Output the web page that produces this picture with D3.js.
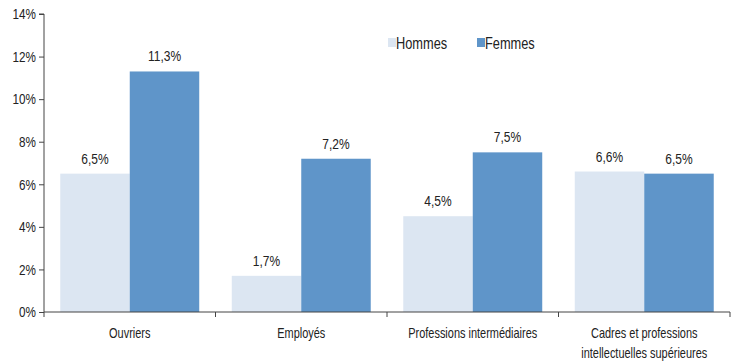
<!DOCTYPE html>
<html>
<head>
<meta charset="utf-8">
<script src="https://cdn.jsdelivr.net/npm/d3@7"></script>
<style>
  body { margin: 0; background: #fff; }
  svg text { font-family: "Liberation Sans Narrow", "Arial Narrow", "Liberation Sans", Arial, sans-serif; fill: #222; }
</style>
</head>
<body>
<svg id="chart" width="733" height="362"></svg>
<script>
// Categories (multi-line labels split on "\n")
const categories = ["Ouvriers", "Employés", "Professions intermédiaires", "Cadres et professions\nintellectuelles supérieures"];
const seriesNames = ["Hommes", "Femmes"];
const hommes = [6.5, 1.7, 4.5, 6.6];
const femmes = [11.3, 7.2, 7.5, 6.5];
const yTicks = [0, 2, 4, 6, 8, 10, 12, 14];
const colors = ["#dce6f2", "#5f95c9"];

// Horizontal squeeze to get a condensed look from a regular sans font
const SQ = 0.78;

const svg = d3.select("#chart");
const margin = { left: 44, right: 3, top: 14 };
const W = 733;
const plotBottom = 312;

const x = d3.scaleBand().domain(categories).range([margin.left, W - margin.right]).padding(0);
const inner = d3.scaleBand().domain(seriesNames).range([0, x.bandwidth()]).paddingOuter(0.234).paddingInner(0);
const y = d3.scaleLinear().domain([0, 14]).range([plotBottom, margin.top]);

const fmt = v => v.toFixed(1).replace(".", ",") + "%";

function squeezedText(parent, tx, ty, str, size, anchor, sq) {
  return parent.append("text")
    .attr("transform", `translate(${tx},${ty}) scale(${sq || SQ},1)`)
    .attr("text-anchor", anchor || "middle")
    .attr("font-size", size)
    .text(str);
}

// Bars
const data = categories.map((c, i) => ({ cat: c, values: [hommes[i], femmes[i]] }));
const groups = svg.append("g").selectAll("g").data(data).join("g")
  .attr("transform", d => `translate(${x(d.cat)},0)`);

groups.selectAll("rect").data(d => d.values.map((v, j) => ({ key: seriesNames[j], v, j })))
  .join("rect")
  .attr("x", d => inner(d.key))
  .attr("width", inner.bandwidth())
  .attr("y", d => y(d.v))
  .attr("height", d => y(0) - y(d.v))
  .attr("fill", d => colors[d.j]);

groups.each(function(d) {
  const g = d3.select(this);
  d.values.forEach((v, j) => {
    squeezedText(g, inner(seriesNames[j]) + inner.bandwidth() / 2, y(v) - 10, fmt(v), 15, "middle", 0.8);
  });
});

// Y axis
const yAxis = d3.axisLeft(y).tickValues(yTicks).tickSize(5).tickFormat(d => d + "%");
const gy = svg.append("g").attr("transform", `translate(${margin.left},0)`).call(yAxis);
gy.select(".domain").attr("stroke", "#444").attr("d", `M-5,${y(14)}H0V${plotBottom}`);
gy.selectAll(".tick line").attr("stroke", "#444");
gy.selectAll(".tick text").attr("font-size", 15).attr("x", -8 / SQ).attr("fill", "#222")
  .attr("transform", `scale(${SQ},1)`)
  .style("font-family", '"Liberation Sans Narrow", "Arial Narrow", "Liberation Sans", Arial, sans-serif');

// X axis with boundary ticks
const gx = svg.append("g").attr("transform", `translate(0,${plotBottom})`);
gx.append("line").attr("x1", margin.left).attr("x2", W - margin.right).attr("stroke", "#444");
const bounds = categories.map(c => x(c)).concat([x.range()[1]]);
gx.selectAll("line.b").data(bounds).join("line").attr("class", "b")
  .attr("x1", d => d).attr("x2", d => d).attr("y1", 0).attr("y2", 5).attr("stroke", "#444");

categories.forEach(c => {
  c.split("\n").forEach((line, i) => {
    squeezedText(gx, x(c) + x.bandwidth() / 2, 26 + i * 20, line, 15, "middle", 0.73);
  });
});

// Legend
const legend = svg.append("g").attr("transform", "translate(388,43)");
const legX = [0, 89];
seriesNames.forEach((n, i) => {
  const g = legend.append("g").attr("transform", `translate(${legX[i]},0)`);
  g.append("rect").attr("x", 0).attr("y", -5).attr("width", 8).attr("height", 9).attr("fill", colors[i]);
  squeezedText(g, 8, 6, n, 16, "start", 0.8);
});
</script>
</body>
</html>
